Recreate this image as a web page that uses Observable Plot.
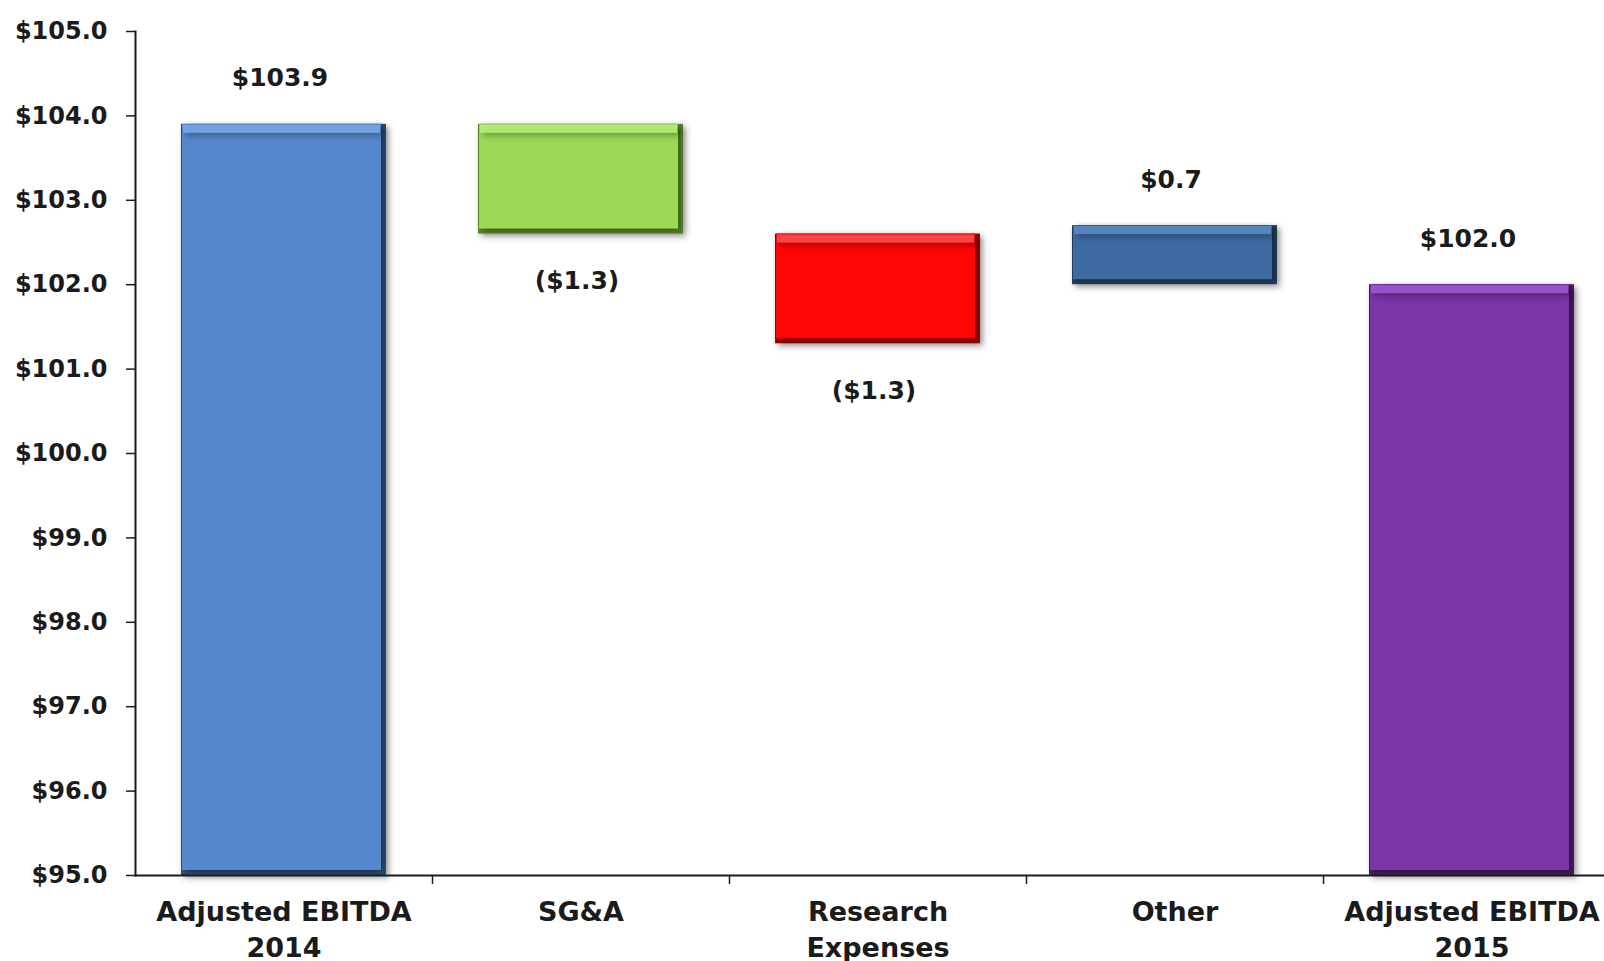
<!DOCTYPE html>
<html>
<head>
<meta charset="utf-8">
<script src="https://cdn.jsdelivr.net/npm/d3@7"></script>
<script src="https://cdn.jsdelivr.net/npm/@observablehq/plot@0.6"></script>
<style>
  html, body { margin: 0; padding: 0; background: #fff; overflow: hidden; }
  #chart svg { display: block; }
  #chart g[aria-label="bar"] { filter: drop-shadow(3px 3px 3px rgba(0,0,0,0.35)); }
</style>
</head>
<body>
<div id="chart"></div>
<script>
// ---- data ----
const categories = ["Adjusted EBITDA\n2014", "SG&A", "Research\nExpenses", "Other", "Adjusted EBITDA\n2015"];
const values = [103.9, -1.3, -1.3, 0.7, 102.0];
const barLow = [95.0, 102.6, 101.3, 102.0, 95.0];
const barHigh = [103.9, 103.9, 102.6, 102.7, 102.0];
const valueLabels = ["$103.9", "($1.3)", "($1.3)", "$0.7", "$102.0"];
const mainColors = ["#5588cc", "#9bd957", "#ff0606", "#3e6aa2", "#7a35a8"];
const edgeColors = ["#2f4f7a", "#5a8a2c", "#a30000", "#24405f", "#4a1d68"];
const lightColors = ["#7aaae6", "#b7ee7c", "#ff5050", "#5c8cc6", "#9c5ad0"];
const yTicks = [95, 96, 97, 98, 99, 100, 101, 102, 103, 104, 105];

const rows = categories.map((c, i) => ({
  cat: c, value: values[i], low: barLow[i], high: barHigh[i],
  label: valueLabels[i], main: mainColors[i], edge: edgeColors[i], light: lightColors[i]
}));

const font = "DejaVu Sans";
const ink = "#1b1b1b";

const chart = Plot.plot({
  width: 1604,
  height: 961,
  marginTop: 31,
  marginBottom: 86,
  marginLeft: 135,
  marginRight: 0,
  style: { fontFamily: font, fontWeight: "bold", color: ink, background: "#fff", overflow: "visible" },
  x: { domain: categories, range: [135, 1620], paddingInner: 0.31, paddingOuter: 0.155 },
  y: { domain: [95, 105] },
  marks: [
    // bevel base (dark edges)
    Plot.barY(rows, { x: "cat", y1: "low", y2: "high", fill: "edge" }),
    // main face
    Plot.barY(rows, { x: "cat", y1: "low", y2: "high", fill: "main", insetRight: 5, insetBottom: 5, insetLeft: 1 }),
    // top highlight
    Plot.barY(rows, { x: "cat", y1: "high", y2: "high", fill: "light", insetBottom: -9, insetTop: 1, insetLeft: 2, insetRight: 6, fillOpacity: 0.85 }),
    // value labels above (non-negative) and below (negative)
    Plot.text(rows, {
      x: "cat",
      y: "high",
      text: "label",
      fontSize: 25,
      fontWeight: "bold",
      fill: ink,
      dx: -4,
      dy: -46,
      lineAnchor: "middle",
      filter: d => d.value >= 0
    }),
    Plot.text(rows, {
      x: "cat",
      y: "low",
      text: "label",
      fontSize: 25,
      fontWeight: "bold",
      fill: ink,
      dx: -4,
      dy: 47,
      lineAnchor: "middle",
      filter: d => d.value < 0
    }),
    // axes lines
    Plot.frame({ anchor: "left", stroke: ink, strokeWidth: 2 }),
    Plot.frame({ anchor: "bottom", stroke: ink, strokeWidth: 2 }),
    // category boundary ticks
    Plot.ruleX(categories.slice(1), { x: d => d, dx: -148.5, y1: 95, y2: 95, insetBottom: -9, stroke: ink, strokeWidth: 1.5 }),
    Plot.axisY({
      ticks: yTicks,
      tickFormat: d => `$${d.toFixed(1)}`,
      tickSize: 9,
      tickPadding: 19,
      fontSize: 24,
      fontWeight: "bold",
      stroke: ink,
      strokeWidth: 1.5,
      fill: ink,
      label: null
    }),
    Plot.axisX({
      tickSize: 0,
      tickPadding: 21,
      fontSize: 27,
      lineHeight: 1.3,
      fontWeight: "bold",
      fill: ink,
      label: null
    })
  ]
});

document.getElementById("chart").appendChild(chart);
</script>
</body>
</html>
